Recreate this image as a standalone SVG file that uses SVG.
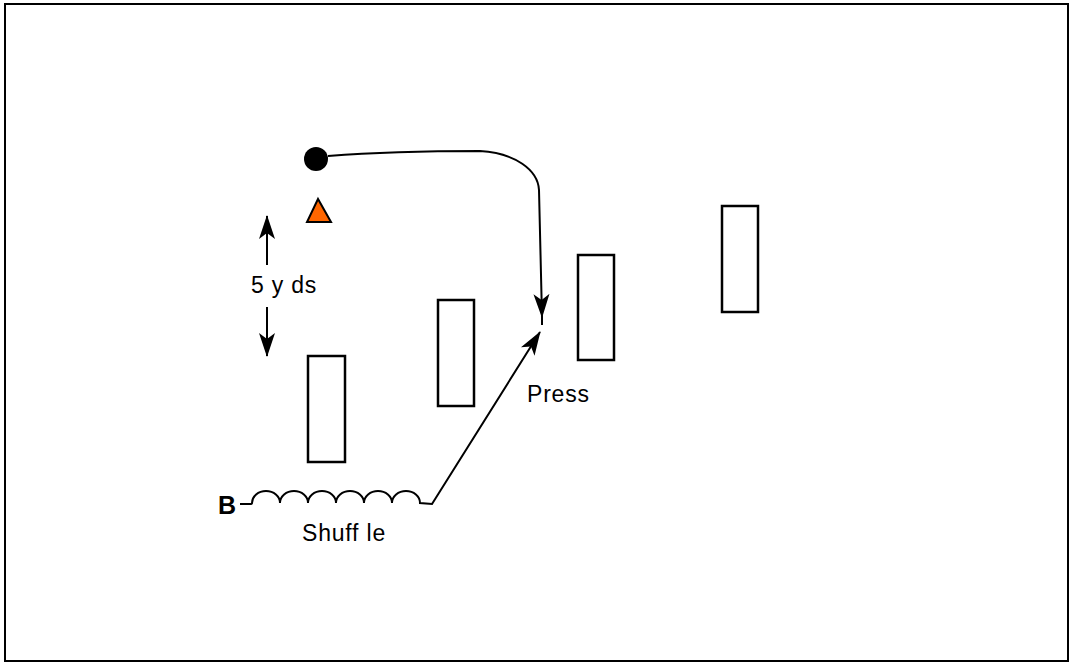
<svg xmlns="http://www.w3.org/2000/svg" width="1070" height="665" viewBox="0 0 1070 665">
<style>
.box{fill:#fff;stroke:#000;stroke-width:2.5}
.ln{fill:none;stroke:#000;stroke-width:2}
.t{font-family:"Liberation Sans",Arial,sans-serif;font-size:23px;letter-spacing:0.8px;fill:#000}
</style>
<defs>
<marker id="ah" markerWidth="24" markerHeight="18" viewBox="0 0 24 18" refX="23" refY="9" orient="auto" markerUnits="userSpaceOnUse">
<path d="M0,1 L24,9 L0,17 L6,9 Z" fill="#000"/>
</marker>
</defs>
<rect x="5" y="4" width="1063" height="657" fill="#fff" stroke="#000" stroke-width="2"/>
<g id="cone1"><rect class="box" x="308" y="356" width="37" height="106"/></g>
<g id="cone2"><rect class="box" x="438" y="300" width="36" height="106"/></g>
<g id="cone3"><rect class="box" x="578" y="255" width="36" height="105"/></g>
<g id="cone4"><rect class="box" x="722" y="206" width="36" height="106"/></g>
<g id="ball"><circle cx="316" cy="159" r="12" fill="#000"/></g>
<g id="coach"><polygon points="318,199 307,222 331,222" fill="#f60" stroke="#000" stroke-width="2"/></g>
<g id="playerB"><text x="218" y="514" style="font-family:'Liberation Sans',Arial,sans-serif;font-weight:bold;font-size:25px">B</text></g>
<g id="connectors">
<path class="ln" d="M328,156 C380,152 440,151 480,151 C515,153 538,170 539,190 L542,317" marker-end="url(#ah)"/>
<line class="ln" x1="542" y1="312" x2="542" y2="325"/>
<line class="ln" x1="267" y1="265" x2="267" y2="216" marker-end="url(#ah)"/>
<line class="ln" x1="267" y1="307" x2="267" y2="356" marker-end="url(#ah)"/>
<path class="ln" d="M240,504 L250,504 Q252,504 252,503 A14,12 0 0 1 280,503 A14,12 0 0 1 308,503 A14,12 0 0 1 336,503 A14,12 0 0 1 364,503 A14,12 0 0 1 392,503 A14,12 0 0 1 420,503 L432,504 L540,332" marker-end="url(#ah)"/>
</g>
<text class="t" x="251" y="293">5 y ds</text>
<text class="t" x="527" y="401.5">Press</text>
<text class="t" x="302" y="540.5">Shuff le</text>
</svg>
